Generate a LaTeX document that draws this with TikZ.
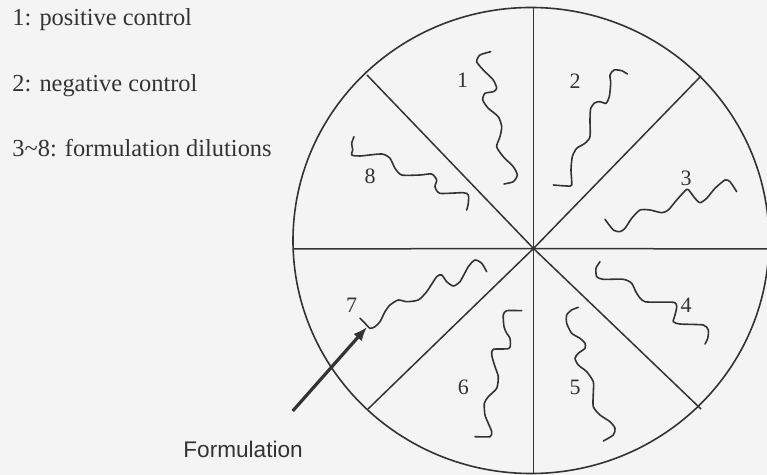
\documentclass[tikz,border=0pt]{standalone}
\usepackage{fontspec}
\setmainfont{Liberation Serif}
\newfontfamily\labelsans{Liberation Sans}
\usetikzlibrary{arrows.meta}
\definecolor{ink}{HTML}{333333}
\definecolor{paper}{HTML}{F4F4F4}
\tikzset{
  rim/.style={draw=ink,line width=0.8pt},
  spoke/.style={draw=ink,line width=0.75pt},
  streak/.style={draw=ink,line width=0.8pt,line join=round,line cap=round},
  num/.style={text=ink,font=\fontsize{11}{13}\selectfont,inner sep=0pt},
  legend/.style={text=ink,font=\fontsize{12.2}{14}\selectfont,anchor=base west,inner sep=0pt},
  pointer/.style={-{Latex[length=7pt,width=5.5pt]},ink,line width=1.6pt},
}

\begin{document}
\begin{tikzpicture}[x=0.5pt,y=-0.5pt]
        \fill[paper] (0,0) rectangle (767,475);
        \useasboundingbox (0,0) rectangle (767,475);
        % plate and its eight sectors
        \coordinate (c)   at (533.5,248.5);
        \coordinate (sN)  at (533.5,8);
        \coordinate (sNE) at (701,76);
        \coordinate (sE)  at (769,249);
        \coordinate (sSE) at (701,409);
        \coordinate (sS)  at (533.5,473);
        \coordinate (sSW) at (368,409);
        \coordinate (sW)  at (293,249);
        \coordinate (sNW) at (367,75);
        \begin{scope}
          \clip (0,0) rectangle (767,475);
          \draw[rim] (531,240.5) ellipse[x radius=119pt,y radius=116.5pt];
          \foreach \e in {sN,sNE,sE,sSE,sS,sSW,sW,sNW} \draw[spoke] (c) -- (\e);
        \end{scope}
        % streaks
        \draw[streak] plot[smooth,tension=0.4] coordinates {(490.7,51.7) (480,55) (476.7,61.7) (483.3,70) (493.3,80) (496.7,88.3) (493.3,91.7) (485,93.3) (482.7,100) (488.3,108.3) (498.3,116.7) (501.7,126.7) (500,136.7) (496.7,146.7) (503.3,156.7) (513.3,166.7) (517.3,175) (513.3,181.7) (504,184)};
        \draw[streak] plot[smooth,tension=0.4] coordinates {(627.3,74) (621.7,70.7) (614,70) (610,75) (610.7,83.3) (609.3,96.7) (606,103.3) (600,101.7) (595,102.7) (590.7,108.3) (590,120) (590,136.7) (585,143.3) (576.7,148.3) (572.3,156.7) (571,170) (571.7,185) (566.7,186) (553.3,185)};
        \draw[streak] plot[smooth,tension=0.4] coordinates {(605,219.3) (613.3,230) (620,231.7) (625,228.3) (631.7,218.3) (640,210) (650,210) (661.7,212.7) (668.3,210) (676.7,200) (686.7,189.3) (690,191.7) (695,198.3) (700,202.7) (706.7,198.3) (715,188.3) (725,180) (730,181.7) (736.7,191.7)};
        \draw[streak] plot[smooth,tension=0.4] coordinates {(600,261.7) (596,268.3) (596.7,276.7) (603.3,279.3) (623.3,279.3) (631.7,283.3) (636.7,293.3) (645,301.7) (673.3,302.3) (676.7,306.7) (675,315) (673.3,321.7) (680,324) (703.3,325) (708.3,330) (707.7,338.3) (705,344)};
        \draw[streak] plot[smooth,tension=0.4] coordinates {(578.3,307.3) (571.7,310) (566.7,315) (566.7,323.3) (571.7,333.3) (580,338.3) (585,343.3) (585,348.3) (578.3,353.3) (575,358.3) (578.3,365) (586.7,371.7) (593.3,381.7) (593.3,393.3) (593.3,406.7) (600,415) (610,421.7) (615,428.3) (613.3,435) (603.3,441)};
        \draw[streak] plot[smooth,tension=0.4] coordinates {(521.7,310.7) (506.7,310.7) (503.3,315) (504,326.7) (506.7,333.3) (510,338.3) (509.3,348.3) (493.3,349.3) (491.7,355) (495,366.7) (498.3,376.7) (496.7,388.3) (488.3,396.7) (484.3,403.3) (485,415) (488.3,423.3) (491.7,431.7) (490,436.7) (475,436.7)};
        \draw[streak] plot[smooth,tension=0.4] coordinates {(360,318.3) (365,323.3) (370,328.3) (375,326.7) (380,321.7) (385,311.7) (390,305) (398.3,300) (406.7,301.7) (418.3,300) (426.7,291.7) (436.7,276.7) (441.7,275) (446.7,281.7) (453.3,286) (460,281.7) (468.3,266.7) (475,260) (481.7,263.3) (486.7,271.7)};
        \draw[streak] plot[smooth,tension=0.4] coordinates {(354,136.7) (351.7,143.3) (352.7,150) (351.7,155) (360,156) (381.7,154) (390,158.3) (395,168.3) (401.7,175) (420,175) (431.7,174) (436.7,180) (435,186.7) (440,193.3) (463.3,192.7) (468.3,195) (468.3,203.3) (466.7,210)};
        % sector numbers
        \node[num] (lab1) at (462.7,80)    {1};
        \node[num] (lab2) at (575,81.7)    {2};
        \node[num] (lab3) at (686,178.3)   {3};
        \node[num] (lab4) at (686,305)     {4};
        \node[num] (lab5) at (575,387.3)   {5};
        \node[num] (lab6) at (463.3,387.3) {6};
        \node[num] (lab7) at (351.7,305)   {7};
        \node[num] (lab8) at (370,176.7)   {8};
        % legend
        \node[legend] (leg1) at (12,26)    {1: positive control};
        \node[legend] (leg2) at (12,91.7)  {2: negative control};
        \node[legend] (leg3) at (12,157)   {3\textasciitilde 8: formulation dilutions};
        % formulation pointer
        \node[legend,font=\labelsans\fontsize{11.3}{13}\selectfont] (form) at (183,458) {Formulation};
        \coordinate (tail) at (292.7,411);
        \coordinate (spot) at (367,327);
        \draw[pointer] (tail) -- (spot);
      \end{tikzpicture}
\end{document}
